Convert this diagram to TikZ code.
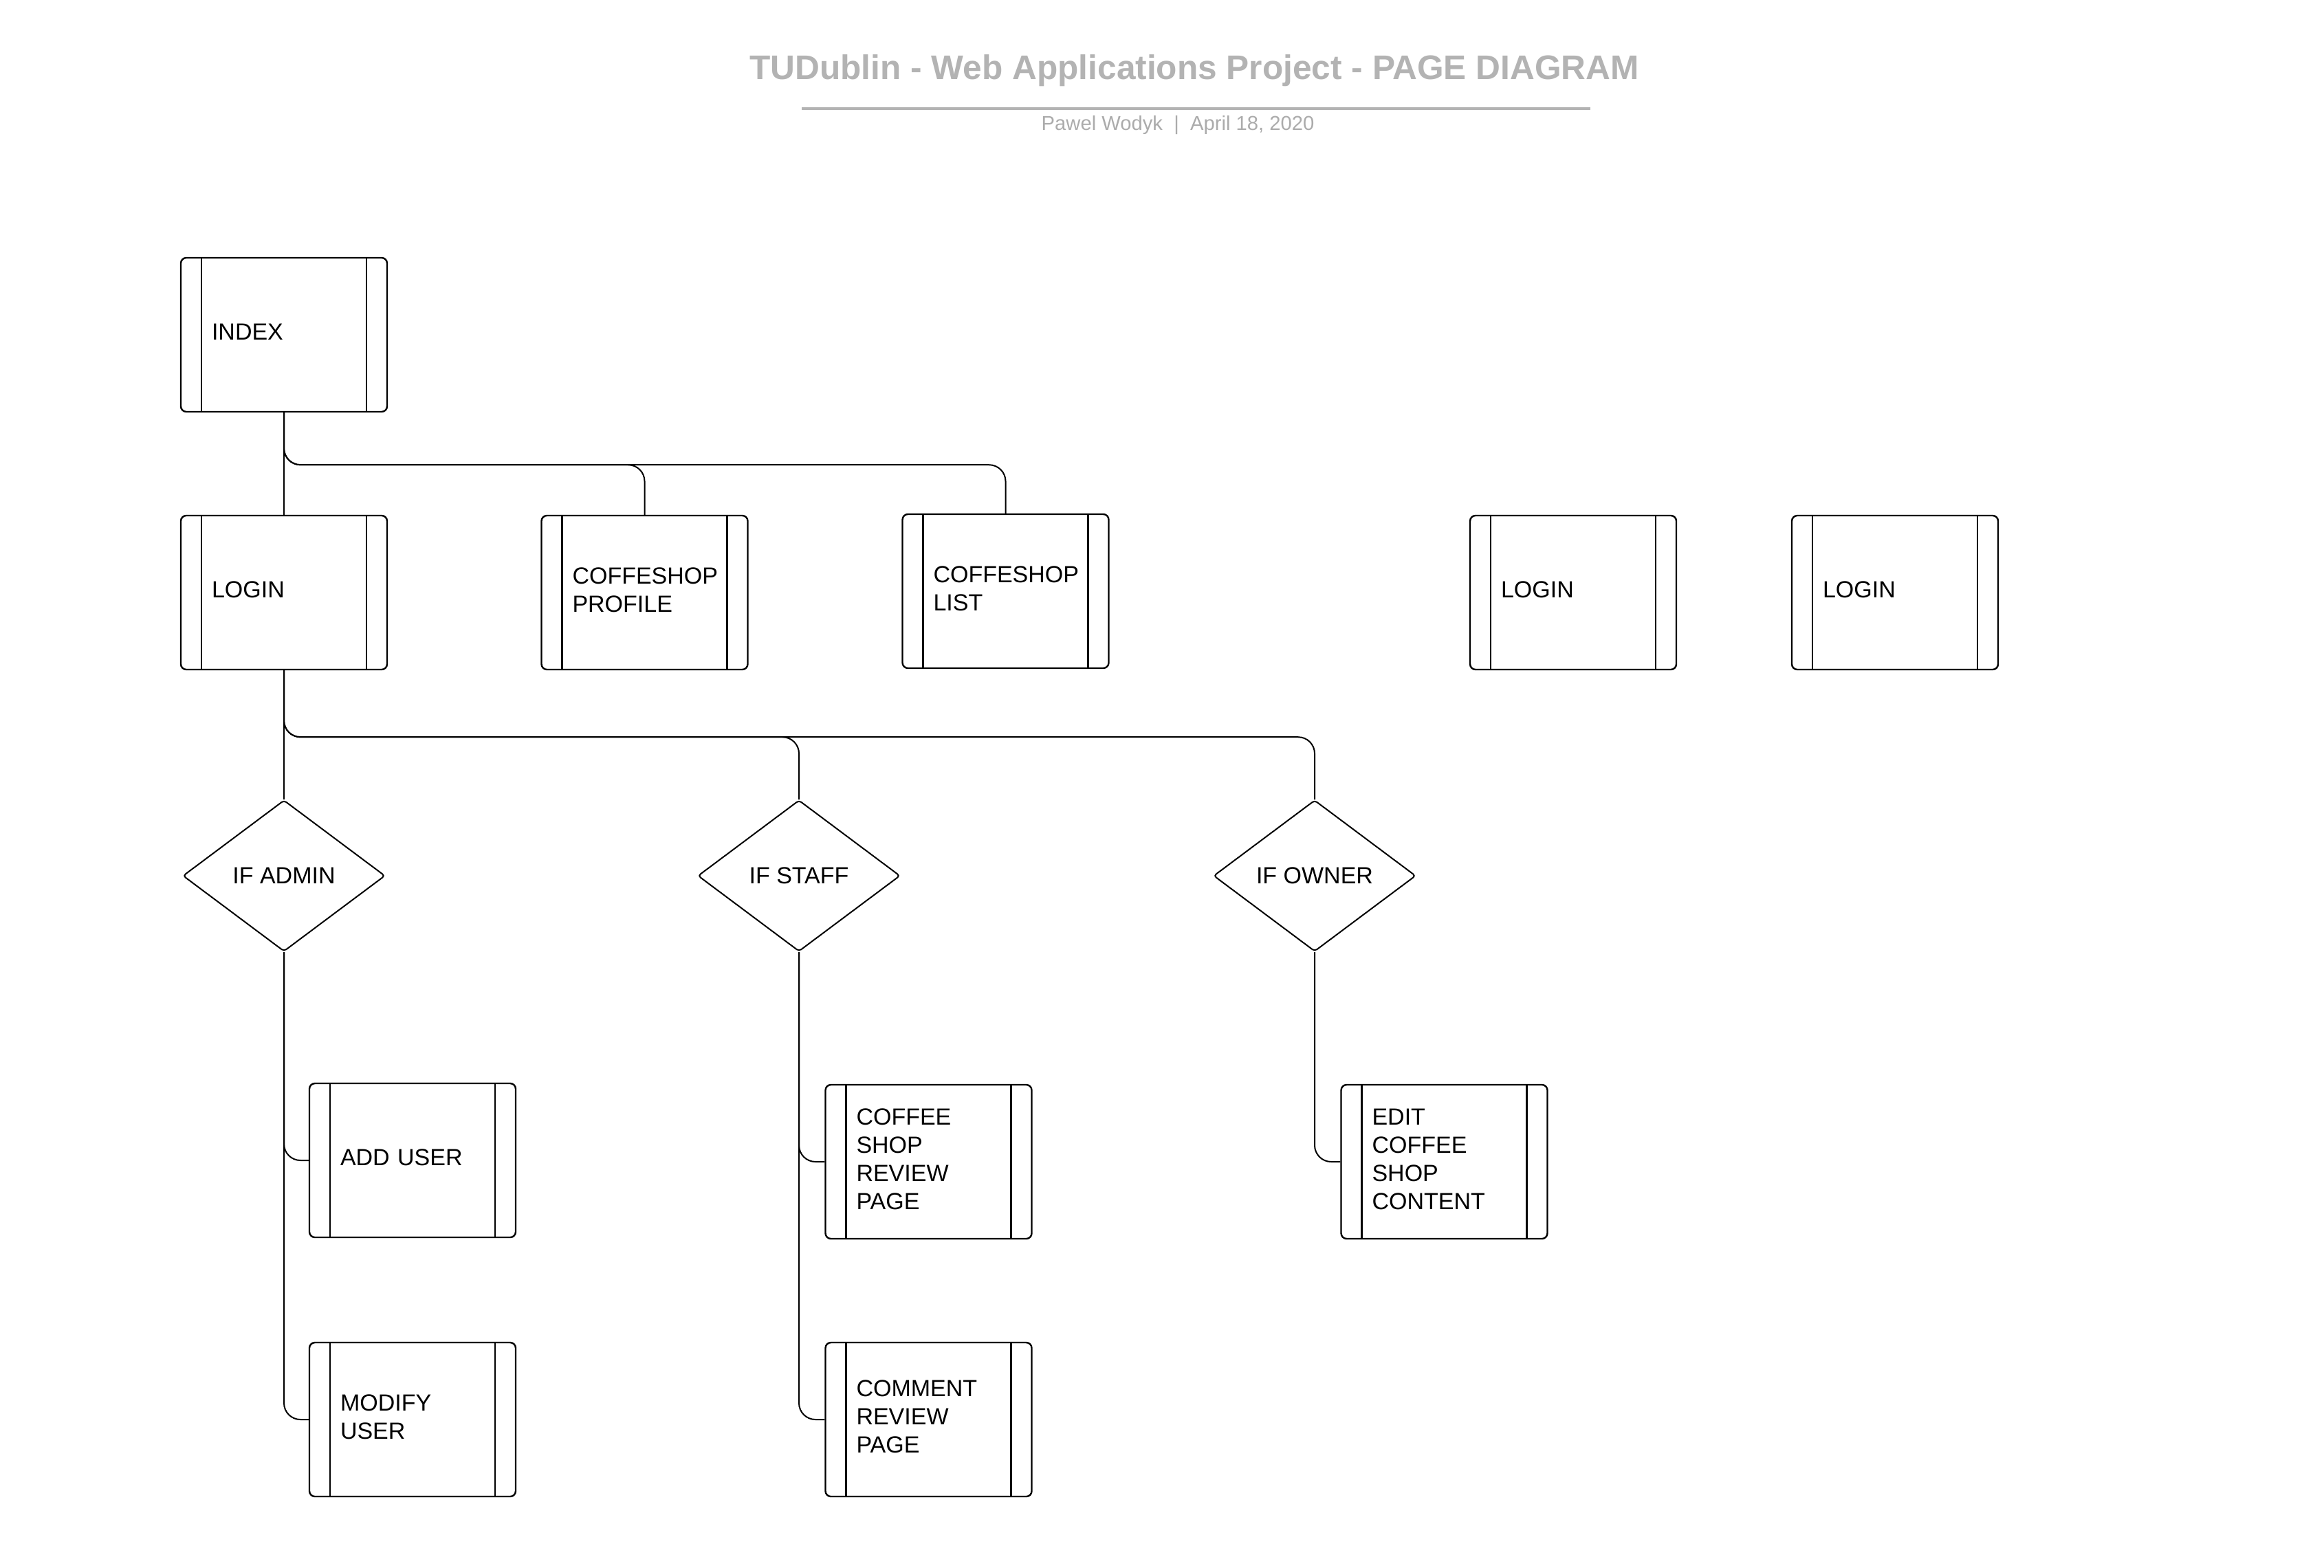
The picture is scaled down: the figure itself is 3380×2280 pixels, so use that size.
\documentclass[tikz,border=0pt]{standalone}
\usepackage{fontspec}
\setmainfont{Liberation Sans}
\usetikzlibrary{shapes.geometric}
\definecolor{titlegray}{HTML}{B3B3B3}
\definecolor{subgray}{HTML}{ABABAB}
\newcommand{\boxtail}{\endgraf\vspace{2pt}}
\begin{document}
\begin{tikzpicture}[x=0.25pt,y=-0.25pt,
  pagebox/.style={rectangle, draw, line width=0.6pt, rounded corners=2pt,
    minimum width=75pt, minimum height=56pt, text width=52.5pt, inner xsep=11.25pt,
    align=left, font=\fontsize{8.5}{10.25}\selectfont,
    execute at end node=\boxtail,
    path picture={
      \draw[line width=0.6pt] ([xshift=7.5pt]path picture bounding box.north west) -- ([xshift=7.5pt]path picture bounding box.south west);
      \draw[line width=0.6pt] ([xshift=-7.5pt]path picture bounding box.north east) -- ([xshift=-7.5pt]path picture bounding box.south east);
    }},
  decision/.style={diamond, draw, line width=0.5pt, rounded corners=1pt, inner sep=0pt,
    minimum width=73.5pt, minimum height=55pt, font=\fontsize{8.5}{10.25}\selectfont},
  conn/.style={draw, line width=0.5pt, rounded corners=6pt},
  thinconn/.style={draw, line width=0.3pt}
]
\useasboundingbox (0,0) rectangle (3380,2280);

% title block
\node[text=titlegray, font=\fontsize{12.4}{14}\selectfont\bfseries] (title) at (1737,103) {TUDublin - Web Applications Project - PAGE DIAGRAM};
\draw[titlegray, line width=1pt] (1166,158) -- (2313,158);
\node[text=subgray, font=\fontsize{7.3}{8.5}\selectfont] (sub) at (1713,182) {Pawel Wodyk\ \ |\ \ April 18, 2020};

% pages
\node[pagebox] (index)   at (413,487)    {INDEX};
\node[pagebox] (login)   at (413,862)    {LOGIN};
\node[pagebox] (profile) at (937.5,862)  {COFFESHOP\\PROFILE};
\node[pagebox] (list)    at (1462.5,860) {COFFESHOP\\LIST};
\node[pagebox] (login2)  at (2288,862)   {LOGIN};
\node[pagebox] (login3)  at (2756,862)   {LOGIN};
\node[pagebox] (adduser) at (600,1688)   {ADD USER};
\node[pagebox] (modify)  at (600,2065)   {MODIFY\\USER};
\node[pagebox] (review)  at (1350.5,1690) {COFFEE\\SHOP\\REVIEW\\PAGE};
\node[pagebox] (comment) at (1350.5,2065) {COMMENT\\REVIEW\\PAGE};
\node[pagebox] (edit)    at (2100.5,1690) {EDIT\\COFFEE\\SHOP\\CONTENT};

% decisions
\node[decision] (admin) at (413,1274)  {IF ADMIN};
\node[decision] (staff) at (1162,1274) {IF STAFF};
\node[decision] (owner) at (1912,1274) {IF OWNER};

% connectors
\draw[thinconn] (index.south) -- (login.north);
\draw[conn] (index.south) -- ++(0,76) -| (profile.north);
\draw[conn] (index.south) -- ++(0,76) -| (list.north);

\draw[thinconn] (login.south) -- (admin.north);
\draw[conn] (login.south) -- ++(0,97) -| (staff.north);
\draw[conn] (login.south) -- ++(0,97) -| (owner.north);

\draw[conn] (admin.south) |- (adduser.west);
\draw[conn] (admin.south) |- (modify.west);
\draw[conn] (staff.south) |- (review.west);
\draw[conn] (staff.south) |- (comment.west);
\draw[conn] (owner.south) |- (edit.west);
\end{tikzpicture}
\end{document}
